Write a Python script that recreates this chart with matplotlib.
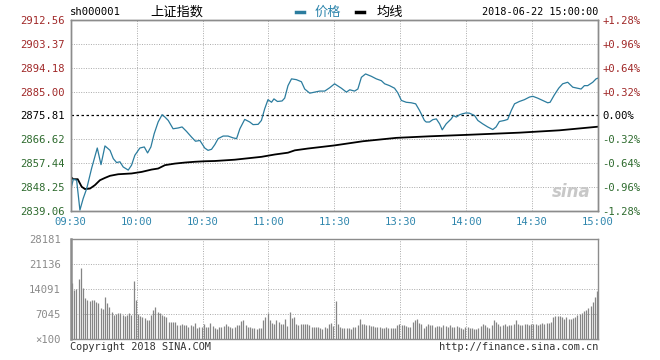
import numpy as np
import matplotlib.pyplot as plt
from matplotlib.lines import Line2D

plt.rcParams['font.family'] = ['DejaVu Sans Mono', 'Noto Sans CJK SC']

prev_close = 2875.81
price_ticks = [2839.06, 2848.25, 2857.44, 2866.62, 2875.81, 2885.00, 2894.18, 2903.37, 2912.56]
pct_labels = ['-1.28%', '-0.96%', '-0.64%', '-0.32%', '0.00%', '+0.32%', '+0.64%', '+0.96%', '+1.28%']
time_ticks = [0, 30, 60, 90, 120, 150, 180, 210, 240]
time_labels = ['09:30', '10:00', '10:30', '11:00', '11:30', '13:30', '14:00', '14:30', '15:00']
vol_ticks = [0, 7045, 14091, 21136, 28181]
vol_labels = ['×100', '7045', '14091', '21136', '28181']

# minutes since 09:30 (lunch break removed), index points
price_t = [0, 1.2, 2.7, 4.2, 5.7, 7.3, 9.5, 12.1, 13.8, 15.6, 17.9, 19.4, 20.9, 22.4, 23.9,
           26.2, 27.7, 29.2, 31.5, 33.5, 35.0, 36.5, 38.0, 39.8, 41.6, 42.9, 44.4, 46.6, 48.9,
           50.7, 52.7, 55.0, 56.8, 58.8, 61.0, 62.5, 64.1, 65.6, 67.1, 69.4, 71.6, 73.9, 75.5,
           77.0, 79.2, 81.5, 83.0, 85.3, 86.8, 88.3, 89.8, 91.4, 92.5, 94.1, 96.2, 97.4, 98.9,
           100.5, 102.7, 105.0, 106.5, 108.8, 111.0, 113.3, 115.6, 117.9, 120.1, 123.2, 125.5,
           127.0, 129.2, 130.7, 132.3, 134.2, 136.8, 139.1, 141.4, 142.9, 145.1, 147.4, 148.9,
           150.5, 152.7, 155.0, 157.0, 158.8, 161.0, 161.8, 163.3, 164.8, 166.4, 167.9, 169.1,
           170.9, 173.2, 174.2, 175.5, 177.0, 178.5, 180.0, 181.5, 183.8, 185.3, 187.5, 189.8,
           192.1, 193.6, 195.1, 197.4, 198.9, 200.5, 202.0, 204.2, 206.5, 208.8, 210.3, 212.5,
           214.8, 217.1, 218.2, 220.1, 222.1, 223.9, 226.2, 228.5, 230.7, 232.3, 233.8, 235.3,
           237.6, 239.1, 240.0]
price_v = [2847.1, 2851.3, 2850.9, 2839.4, 2843.9, 2847.7, 2855.4, 2863.3, 2856.9, 2864.1, 2862.4,
           2859.2, 2857.7, 2858.0, 2856.0, 2854.8, 2856.7, 2860.5, 2863.3, 2863.7, 2861.4, 2863.7,
           2868.8, 2873.3, 2876.1, 2875.2, 2873.9, 2870.7, 2871.0, 2871.4, 2869.7, 2867.5, 2865.9,
           2866.2, 2863.3, 2862.4, 2862.8, 2864.6, 2866.9, 2867.9, 2867.9, 2867.2, 2866.9, 2870.7,
           2874.3, 2873.3, 2872.3, 2872.4, 2873.9, 2878.4, 2881.9, 2880.9, 2882.2, 2881.2, 2881.4,
           2882.5, 2887.3, 2889.9, 2889.6, 2888.8, 2886.0, 2884.4, 2884.8, 2885.2, 2885.2, 2886.5,
           2888.0, 2886.3, 2884.8, 2885.7, 2885.2, 2886.0, 2890.5, 2891.8, 2890.9, 2889.9, 2889.2,
           2888.0, 2887.3, 2886.3, 2884.5, 2881.6, 2880.9, 2880.7, 2880.3, 2877.7, 2873.9, 2873.3,
           2873.3, 2874.2, 2874.5, 2872.6, 2870.3, 2872.6, 2874.5, 2875.8, 2875.2, 2876.1, 2876.5,
           2876.8, 2876.7, 2875.8, 2873.9, 2872.6, 2871.4, 2870.4, 2871.4, 2873.5, 2873.9, 2874.3,
           2877.7, 2880.3, 2881.2, 2881.9, 2882.9, 2883.2, 2882.5, 2881.6, 2880.7, 2880.9, 2883.7,
           2886.3, 2888.0, 2888.6, 2886.7, 2886.3, 2886.0, 2887.3, 2887.3, 2888.6, 2889.9, 2890.2]

avg_t = [0, 1.2, 3.2, 5.0, 6.5, 8.8, 11.0, 13.3, 15.6, 17.9, 21.6, 27.7, 32.3, 36.8, 39.8, 42.9,
         47.4, 52.0, 56.5, 61.0, 65.6, 74.7, 86.8, 92.9, 98.9, 102.0, 108.0, 114.1, 120.1, 133.0,
         148.2, 163.3, 181.5, 204.2, 222.4, 240.0]
avg_v = [2852.2, 2851.3, 2851.3, 2848.4, 2847.5, 2847.7, 2849.0, 2850.9, 2851.8, 2852.6, 2853.2,
         2853.5, 2854.1, 2855.0, 2855.4, 2856.7, 2857.3, 2857.7, 2858.0, 2858.2, 2858.3, 2858.8,
         2859.9, 2860.8, 2861.5, 2862.4, 2863.1, 2863.7, 2864.3, 2865.9, 2867.2, 2867.8, 2868.4,
         2869.2, 2870.1, 2871.5]

# one-minute volume, x100
volume = [15800, 13900, 14200, 17000, 20200, 14400, 11700, 11100, 10900, 11100,
          11100, 10600, 10300, 8700, 8500, 12000, 10300, 9200, 7600, 6900,
          7100, 7500, 7300, 6900, 6600, 6900, 7300, 6900, 16300, 11100,
          7100, 6600, 6200, 5900, 5500, 5300, 6900, 8300, 9000, 7800,
          7300, 6900, 6600, 6200, 5000, 5000, 5000, 5000, 4100, 4100,
          4200, 3900, 4100, 3600, 4100, 3800, 4500, 3100, 3600, 3400,
          4200, 3400, 3600, 4500, 3700, 3300, 3000, 3400, 3600, 3700,
          4300, 3700, 3500, 3300, 3600, 4000, 4100, 5200, 5300, 4000,
          3500, 3600, 3300, 3100, 3000, 3100, 3300, 5500, 6200, 7300,
          5500, 4700, 4300, 5400, 4800, 4400, 4200, 5600, 3800, 7600,
          6100, 6400, 4300, 4100, 4200, 4300, 4200, 4200, 4000, 3600,
          3600, 3500, 3400, 3100, 3000, 3400, 3300, 4300, 4500, 3800,
          10900, 4200, 3600, 3300, 3100, 3200, 3100, 3000, 3600, 3500,
          4000, 5600, 4400, 4200, 4100, 4000, 3800, 3800, 3500, 3400,
          3500, 3300, 3200, 3500, 3100, 3300, 3100, 3200, 4000, 4200,
          4100, 4100, 3800, 3600, 3400, 4800, 5300, 5800, 4500, 4200,
          3300, 3800, 4200, 4100, 4000, 3400, 3700, 3800, 3500, 3900,
          3700, 3600, 4000, 3500, 3600, 3700, 3400, 3300, 3000, 3400,
          3600, 3100, 3300, 3000, 3000, 3200, 3800, 4200, 4000, 3400,
          3200, 3900, 5300, 4800, 4300, 3800, 4000, 4300, 3700, 3900,
          4000, 4200, 5400, 4300, 4000, 3900, 4200, 4300, 4000, 4200,
          4300, 4400, 4100, 4300, 4500, 4300, 4700, 4600, 4800, 6200,
          6500, 6600, 6500, 6400, 5700, 6300, 5600, 5800, 5900, 6200,
          6800, 7000, 7400, 7900, 8300, 8800, 9500, 10600, 12000, 13600]

red = '#a02828'
green = '#2e6b2e'
blue_txt = '#2f86ad'
line_blue = '#2b7c9e'
grid_c = '#aaaaaa'
mono = 'DejaVu Sans Mono'

fig = plt.figure(figsize=(6.6, 3.6), dpi=100)

# ---- price panel
ax = fig.add_axes([0.1071, 0.4139, 0.7990, 0.5306])
ax.set_xlim(0, 240)
ax.set_ylim(price_ticks[0], price_ticks[-1])
for p in price_ticks[1:-1]:
    if p == prev_close:
        ax.axhline(p, color='black', ls=(0, (2, 2)), lw=0.9, zorder=1)
    else:
        ax.axhline(p, color=grid_c, ls=(0, (1, 1.5)), lw=0.7, zorder=1)
for t in time_ticks[1:-1]:
    ax.axvline(t, color=grid_c, ls=(0, (1, 1.5)), lw=0.7, zorder=1)
ax.plot(price_t, price_v, color=line_blue, lw=0.9, zorder=3)
ax.plot(avg_t, avg_v, color='black', lw=1.3, zorder=2)

ax.set_xticks(time_ticks)
ax.set_xticklabels(time_labels, color=blue_txt, fontsize=7.6, family=mono)
ax.set_yticks(price_ticks)
ax.set_yticklabels(['%.2f' % p for p in price_ticks], fontsize=7.6, family=mono)
for lab, p in zip(ax.get_yticklabels(), price_ticks):
    lab.set_color(red if p > prev_close + 0.01 else (green if p < prev_close - 0.01 else 'black'))
ax.tick_params(length=0, pad=4)

ax2 = ax.twinx()
ax2.set_ylim(price_ticks[0], price_ticks[-1])
ax2.set_yticks(price_ticks)
ax2.set_yticklabels(pct_labels, fontsize=7.6, family=mono)
for lab, p in zip(ax2.get_yticklabels(), price_ticks):
    lab.set_color(red if p > prev_close + 0.01 else (green if p < prev_close - 0.01 else 'black'))
ax2.tick_params(length=0, pad=3)
for a in (ax, ax2):
    for s in a.spines.values():
        s.set_color('#8c8c8c')
        s.set_linewidth(1.0)

ax.text(0.985, 0.1, 'sina', transform=ax.transAxes, ha='right', va='center',
        fontsize=12, style='italic', weight='bold', color='#c8c8c8', family='DejaVu Sans')

# ---- volume panel
axv = fig.add_axes([0.1071, 0.0575, 0.7990, 0.2778])
axv.set_xlim(0, 240)
axv.set_ylim(0, vol_ticks[-1])
for v in vol_ticks[1:-1]:
    axv.axhline(v, color=grid_c, ls=(0, (1, 1.5)), lw=0.7, zorder=1)
for t in time_ticks[1:-1]:
    axv.axvline(t, color=grid_c, ls=(0, (1, 1.5)), lw=0.7, zorder=1)
axv.vlines(np.arange(len(volume)) + 0.6, 0, volume, color='#858585', lw=0.9, zorder=2)
axv.set_xticks([])
axv.set_yticks(vol_ticks)
axv.set_yticklabels(vol_labels, fontsize=7.6, family=mono, color='#8a8a8a')
axv.tick_params(length=0, pad=7)
for s in axv.spines.values():
    s.set_color('#8c8c8c')
    s.set_linewidth(1.0)
axv.spines['left'].set_linewidth(1.8)

# ---- header and footer texts
fig.text(70 / 660, 1 - 12 / 360, 'sh000001', fontsize=7.6, family=mono, va='center')
fig.text(150 / 660, 1 - 12 / 360, '上证指数', fontsize=9.5, family='Noto Sans CJK SC', va='center')
fig.add_artist(Line2D([296 / 660, 304 / 660], [1 - 12 / 360] * 2, color=line_blue, lw=2.5))
fig.text(315 / 660, 1 - 12 / 360, '价格', fontsize=9.5, family='Noto Sans CJK SC', va='center',
         color=blue_txt)
fig.add_artist(Line2D([356 / 660, 364 / 660], [1 - 12 / 360] * 2, color='black', lw=2.5))
fig.text(377 / 660, 1 - 12 / 360, '均线', fontsize=9.5, family='Noto Sans CJK SC', va='center')
fig.text(598 / 660, 1 - 12 / 360, '2018-06-22 15:00:00', fontsize=7.3, family=mono,
         va='center', ha='right')
fig.text(70 / 660, 1 - 347 / 360, 'Copyright 2018 SINA.COM', fontsize=7.4, family=mono,
         va='center', color='#333333')
fig.text(598 / 660, 1 - 347 / 360, 'http://finance.sina.com.cn', fontsize=7.4, family=mono,
         va='center', ha='right', color='#333333')

fig.savefig('out.png', dpi=100, facecolor='white')
